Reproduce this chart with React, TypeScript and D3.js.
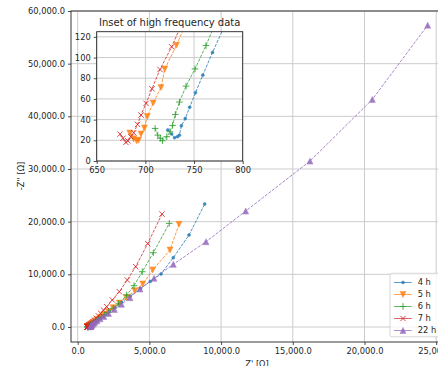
import { useEffect, useRef } from "react";
import * as d3 from "d3";

const WIDTH = 438;
const HEIGHT = 366;
const MAIN = { left: 71, right: 445, top: 11, bottom: 342 };
const INSET = { left: 96.7, right: 242.7, top: 31.7, bottom: 161 };
const FONT = "DejaVu Sans";
const TICK_FONT_SIZE = "8.3px";
const TITLE_FONT_SIZE = "10px";
const GRID_COLOR = "#cccccc";
const SPINE_COLOR = "#222222";
const TEXT_COLOR = "#262626";
const LINE_DASH = "3.1,1.35";

const SERIES_LABELS = ["4 h", "5 h", "6 h", "7 h", "22 h"];
const SERIES_COLORS = ["#1f77b4", "#ff7f0e", "#2ca02c", "#d62728", "#9467bd"];
const SERIES_MARKERS = ["dot", "triDown", "plus", "cross", "triUp"];

const MAIN_X_TICKS = [0, 5000, 10000, 15000, 20000, 25000];
const MAIN_Y_TICKS = [0, 10000, 20000, 30000, 40000, 50000, 60000];
const INSET_X_TICKS = [650, 700, 750, 800];
const INSET_Y_TICKS = [0, 20, 40, 60, 80, 100, 120];

// [Z', -Z''] in ohm
const DATA_4H: [number, number][] = [
  [723, 30], [727, 26], [730, 22.5], [733, 23.5], [735, 25], [737, 34],
  [741, 41], [745.5, 52], [751.5, 66], [759, 83], [769, 105], [782, 132],
  [798, 165], [819, 206], [845, 258], [877, 322], [918, 403], [968, 504],
  [1031, 630], [1110, 787], [1208, 984], [1331, 1230], [1486, 1540],
  [1676, 1920], [1916, 2400], [2216, 3000], [2591, 3750], [3061, 4690],
  [3646, 5860], [4381, 7330], [5060, 8650], [5809, 10057], [6667, 13150],
  [7762, 17457], [8856, 23340],
];

const DATA_5H: [number, number][] = [
  [684, 27], [688, 21.5], [691, 19.5], [693, 20], [695.5, 26], [699, 32],
  [702, 43], [708, 56], [716, 71], [720, 89], [732, 112], [745, 140],
  [760, 172], [780, 213], [805, 264], [837, 328], [877, 408], [927, 508],
  [990, 633], [1068, 788], [1165, 981], [1285, 1220], [1435, 1518],
  [1620, 1890], [1850, 2350], [2130, 2930], [2470, 3650], [2900, 4550],
  [3400, 5600], [3980, 6900], [4533, 8159], [5230, 10816], [6437, 14611],
  [7064, 19488],
];

const DATA_6H: [number, number][] = [
  [710, 31.5], [712.7, 25], [715.4, 22], [717.5, 19.6], [722, 23.5],
  [725.3, 28.3], [728, 34.4], [730.8, 45], [735, 57], [741.8, 72.4],
  [751, 89], [762.3, 111.6], [774, 138], [789, 171], [809, 212], [834, 263],
  [866, 326], [905, 404], [954, 501], [1015, 621], [1091, 770], [1186, 955],
  [1304, 1184], [1452, 1468], [1635, 1820], [1862, 2257], [2146, 2799],
  [2480, 3550], [2860, 4420], [3417, 6072], [3926, 7837], [4505, 10493],
  [5272, 14099], [6388, 19677],
];

const DATA_7H: [number, number][] = [
  [674, 26], [677, 22], [680, 18], [682, 19.5], [685, 23.5], [688, 27.3],
  [692, 35.4], [695.5, 44.4], [700.7, 55.7], [706.8, 69.8], [715, 88.5],
  [727, 110.4], [741, 140], [757, 178], [777, 228], [803, 292], [836, 374],
  [877, 478], [929, 612], [994, 782], [1075, 1000], [1175, 1280],
  [1300, 1640], [1450, 2100], [1604, 2600], [1800, 3200], [2022, 3852],
  [2413, 5123], [2901, 6698], [3459, 8918], [4045, 11461], [4881, 15825],
  [5879, 21442],
];

const DATA_22H: [number, number][] = [
  [905, 60], [915, 110], [930, 190], [960, 300], [1010, 450], [1090, 650],
  [1200, 900], [1350, 1200], [1560, 1550], [1820, 2000], [2150, 2580],
  [2560, 3330], [3050, 4300], [3647, 5560], [4345, 7211], [5321, 9241],
  [6667, 11898], [8947, 16186], [11715, 22011], [16199, 31499],
  [20544, 43207], [24407, 57306],
];

const SERIES_DATA = [DATA_4H, DATA_5H, DATA_6H, DATA_7H, DATA_22H];

function markerPath(kind: string): string {
  switch (kind) {
    case "triDown":
      return "M0,3L-3,-3L3,-3Z";
    case "triUp":
      return "M0,-3L-3,3L3,3Z";
    case "plus":
      return "M-3.3,0H3.3M0,-3.3V3.3";
    case "cross":
      return "M-2.7,-2.7L2.7,2.7M-2.7,2.7L2.7,-2.7";
    default:
      return d3.symbol(d3.symbolCircle, 7)() as string;
  }
}

function drawMarker(
  g: d3.Selection<SVGGElement, unknown, null, undefined>,
  kind: string,
  color: string,
  cx: number,
  cy: number
) {
  const stroked = kind === "plus" || kind === "cross";
  g.append("path")
    .attr("d", markerPath(kind))
    .attr("transform", `translate(${cx},${cy})`)
    .attr("fill", stroked ? "none" : color)
    .attr("stroke", color)
    .attr("stroke-width", stroked ? 1 : 0.5)
    .attr("opacity", 0.85);
}

export default function App() {
  const svgRef = useRef<SVGSVGElement>(null);

  useEffect(() => {
    if (!svgRef.current) return;
    const svg = d3.select(svgRef.current);
    svg.selectAll("*").remove();

    const x = d3.scaleLinear().domain([-467, 25600]).range([MAIN.left, 444.8]);
    const y = d3.scaleLinear().domain([-2850, 60000]).range([MAIN.bottom, MAIN.top]);
    const xi = d3.scaleLinear().domain([650, 800]).range([INSET.left, INSET.right]);
    const yi = d3.scaleLinear().domain([0, 125]).range([INSET.bottom, INSET.top]);

    const defs = svg.append("defs");
    defs.append("clipPath").attr("id", "clip-main")
      .append("rect")
      .attr("x", MAIN.left).attr("y", MAIN.top)
      .attr("width", MAIN.right - MAIN.left).attr("height", MAIN.bottom - MAIN.top);
    defs.append("clipPath").attr("id", "clip-inset")
      .append("rect")
      .attr("x", INSET.left).attr("y", INSET.top)
      .attr("width", INSET.right - INSET.left).attr("height", INSET.bottom - INSET.top);

    const fmt = d3.format(",.1f");

    const styleAxis = (g: d3.Selection<SVGGElement, unknown, null, undefined>) => {
      g.select(".domain").remove();
      g.selectAll(".tick line").attr("stroke", SPINE_COLOR).attr("stroke-width", 0.8);
      g.selectAll(".tick text")
        .attr("fill", TEXT_COLOR)
        .style("font-family", FONT)
        .style("font-size", TICK_FONT_SIZE);
    };

    const drawPlot = (
      root: d3.Selection<SVGGElement, unknown, null, undefined>,
      sx: d3.ScaleLinear<number, number>,
      sy: d3.ScaleLinear<number, number>,
      box: { left: number; right: number; top: number; bottom: number },
      xTicks: number[],
      yTicks: number[],
      clipId: string,
      tickFmt: (v: number) => string
    ) => {
      root.append("rect")
        .attr("x", box.left).attr("y", box.top)
        .attr("width", box.right - box.left).attr("height", box.bottom - box.top)
        .attr("fill", "white");

      const grid = root.append("g");
      xTicks.forEach((t) => {
        grid.append("line")
          .attr("x1", sx(t)).attr("x2", sx(t))
          .attr("y1", box.top).attr("y2", box.bottom)
          .attr("stroke", GRID_COLOR).attr("stroke-width", 1);
      });
      yTicks.forEach((t) => {
        grid.append("line")
          .attr("x1", box.left).attr("x2", box.right)
          .attr("y1", sy(t)).attr("y2", sy(t))
          .attr("stroke", GRID_COLOR).attr("stroke-width", 1);
      });

      const plot = root.append("g").attr("clip-path", `url(#${clipId})`);
      const line = d3.line<[number, number]>()
        .x((d) => sx(d[0]))
        .y((d) => sy(d[1]));

      SERIES_DATA.forEach((data, i) => {
        const color = SERIES_COLORS[i];
        plot.append("path")
          .datum(data)
          .attr("d", line)
          .attr("fill", "none")
          .attr("stroke", color)
          .attr("stroke-width", 1)
          .attr("stroke-dasharray", LINE_DASH)
          .attr("opacity", 0.8);
        const mg = plot.append("g");
        data.forEach((d) => drawMarker(mg, SERIES_MARKERS[i], color, sx(d[0]), sy(d[1])));
      });

      root.append("rect")
        .attr("x", box.left).attr("y", box.top)
        .attr("width", box.right - box.left).attr("height", box.bottom - box.top)
        .attr("fill", "none")
        .attr("stroke", SPINE_COLOR)
        .attr("stroke-width", 0.9);

      root.append("g")
        .attr("transform", `translate(0,${box.bottom})`)
        .call(d3.axisBottom(sx).tickValues(xTicks).tickFormat((v) => tickFmt(+v)).tickSize(3).tickPadding(3))
        .call(styleAxis);

      root.append("g")
        .attr("transform", `translate(${box.left},0)`)
        .call(d3.axisLeft(sy).tickValues(yTicks).tickFormat((v) => tickFmt(+v)).tickSize(3).tickPadding(3))
        .call(styleAxis);
    };

    // main axes
    const mainG = svg.append("g");
    drawPlot(mainG, x, y, MAIN, MAIN_X_TICKS, MAIN_Y_TICKS, "clip-main", fmt);

    mainG.append("text")
      .attr("transform", `translate(24,176) rotate(-90)`)
      .attr("text-anchor", "middle")
      .attr("fill", TEXT_COLOR)
      .style("font-family", FONT)
      .style("font-size", TICK_FONT_SIZE)
      .text("-Z'' [Ω]");

    mainG.append("text")
      .attr("x", 257)
      .attr("y", 367)
      .attr("text-anchor", "middle")
      .attr("fill", TEXT_COLOR)
      .style("font-family", FONT)
      .style("font-size", TICK_FONT_SIZE)
      .text("Z' [Ω]");

    // legend
    const legend = svg.append("g");
    legend.append("rect")
      .attr("x", 390).attr("y", 273.3)
      .attr("width", 60).attr("height", 63.5)
      .attr("rx", 2)
      .attr("fill", "white").attr("fill-opacity", 0.8)
      .attr("stroke", "#cccccc").attr("stroke-width", 0.8);
    SERIES_LABELS.forEach((label, i) => {
      const ly = 282.5 + i * 12;
      const color = SERIES_COLORS[i];
      legend.append("line")
        .attr("x1", 394).attr("x2", 411.7)
        .attr("y1", ly).attr("y2", ly)
        .attr("stroke", color).attr("stroke-width", 0.9).attr("opacity", 0.8);
      drawMarker(legend, SERIES_MARKERS[i], color, 403, ly);
      legend.append("text")
        .attr("x", 417.7).attr("y", ly)
        .attr("dy", "0.35em")
        .attr("fill", TEXT_COLOR)
        .style("font-family", FONT)
        .style("font-size", TICK_FONT_SIZE)
        .text(label);
    });

    // inset
    const insetG = svg.append("g");
    drawPlot(insetG, xi, yi, INSET, INSET_X_TICKS, INSET_Y_TICKS, "clip-inset", (v) => String(v));
    insetG.append("text")
      .attr("x", (INSET.left + INSET.right) / 2)
      .attr("y", 26)
      .attr("text-anchor", "middle")
      .attr("fill", TEXT_COLOR)
      .style("font-family", FONT)
      .style("font-size", TITLE_FONT_SIZE)
      .text("Inset of high frequency data");
  }, []);

  return (
    <svg
      ref={svgRef}
      width={WIDTH}
      height={HEIGHT}
      style={{ position: "absolute", left: 0, top: 0, background: "white" }}
    />
  );
}
